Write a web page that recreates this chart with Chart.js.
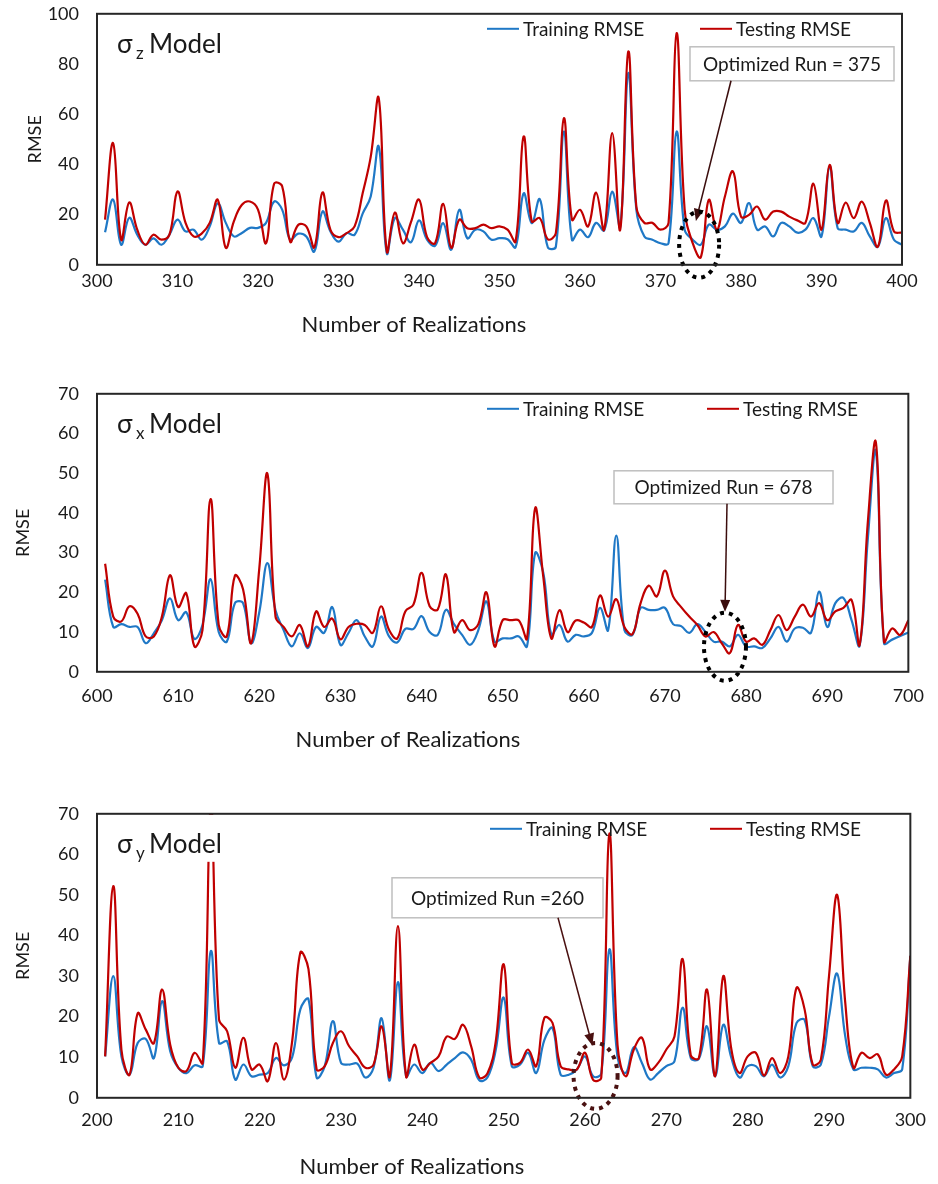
<!DOCTYPE html>
<html>
<head>
<meta charset="utf-8">
<script src="https://cdn.jsdelivr.net/npm/chart.js@4.4.0/dist/chart.umd.min.js"></script>
<style>
  html, body { margin: 0; padding: 0; background: #fff; }
  body { width: 938px; height: 1184px; position: relative; overflow: hidden; }
  canvas { position: absolute; left: 0; top: 0; }
</style>
</head>
<body>
<canvas id="chart-z" width="938" height="400"></canvas>
<canvas id="chart-x" width="938" height="420"></canvas>
<canvas id="chart-y" width="938" height="420"></canvas>
<script>
// run numbers (x categories)
const zRuns = Array.from({ length: 100 }, (_, i) => 301 + i);
const xRuns = Array.from({ length: 100 }, (_, i) => 601 + i);
const yRuns = Array.from({ length: 100 }, (_, i) => 201 + i);

// sigma z model, runs 301-400
const zTraining = [
  13, 26, 8, 18.7, 12, 8, 10.5, 8, 12, 18,
  13.3, 14, 10, 15.3, 24.5, 16.7, 11.3, 12.7, 14.7, 14.7,
  16.7, 25.2, 22, 10, 12.4, 11.3, 5.3, 21.2, 13.3, 9.2,
  12.6, 12, 20.4, 27.2, 47.1, 4.6, 18.6, 14, 9, 17.7,
  10, 7.6, 16.6, 6, 21.9, 10.6, 14, 13.3, 10, 10.6,
  10.2, 7, 28.5, 16.6, 26.2, 7, 7.2, 53.1, 10, 14,
  11, 16.7, 13.7, 29.2, 15.3, 76.4, 21.9, 11.3, 10, 8.6,
  8.6, 53.1, 14, 10, 8, 16, 14, 15.3, 20.4, 16.7,
  24.6, 14, 15.3, 11.3, 16.7, 15.3, 12.8, 14, 18.6, 11.3,
  39.2, 14.7, 14, 13.3, 16.7, 11.3, 7.2, 18.6, 10, 8
];
const zTesting = [
  18, 48.5, 10, 24.8, 14, 8, 12, 10, 12, 29.2,
  16.7, 11.3, 12.4, 16.7, 25.9, 6.8, 17.3, 23.9, 25.2, 22,
  8.6, 32.3, 31.3, 9.2, 15.9, 15.3, 7, 28.8, 13.9, 11,
  12.6, 15.3, 28.5, 43, 66.4, 5.3, 20.8, 8.6, 17, 26,
  11, 8.6, 24.3, 6.8, 18, 14.6, 14.6, 16, 14.6, 15.3,
  14, 9.3, 51.1, 17.3, 18.6, 10.2, 12.6, 58.4, 18, 21.9,
  15.3, 28.8, 14, 52.5, 14, 85, 23.2, 16.7, 16.7, 14,
  16.7, 92.3, 22, 8.6, 3, 25.9, 14, 27.2, 37.2, 19.2,
  19.9, 23.2, 18, 21.2, 21.2, 19.2, 17.7, 16.7, 32.3, 14,
  39.8, 16.7, 24.8, 18.6, 25.2, 16.7, 7.2, 25.6, 13.3, 12.8
];

// sigma x model, runs 601-700
const xTraining = [
  23.2, 11.3, 12, 11.3, 11.3, 7.2, 9.7, 13, 18.5, 13,
  15, 8.3, 11.8, 23.3, 10, 7.6, 17.3, 17.3, 7.2, 15,
  27.4, 15.5, 10.5, 6.4, 9.7, 6, 11.3, 9.8, 16.3, 6.8,
  9.8, 13, 8.9, 6.4, 13.9, 8.9, 7.4, 10.8, 10.8, 14,
  10, 9.3, 15.6, 12, 9.3, 6.8, 10.5, 17.7, 7.6, 8.4,
  8.4, 8.9, 6.4, 29.9, 25, 9.3, 11.8, 7.6, 9.3, 8.9,
  9.8, 16.1, 10.5, 34.3, 10.5, 9.3, 16.1, 15.6, 15.6, 16.1,
  12, 11.5, 9.8, 12, 10, 7.6, 7.6, 6.4, 9.3, 6.4,
  6.4, 6, 8.4, 11.3, 7.6, 10.9, 11.1, 9.8, 20.2, 11.3,
  17.3, 18.6, 13, 6.6, 33.3, 55.5, 7.2, 8.1, 9, 9.9
];
const xTesting = [
  27.2, 13.9, 12.7, 16.5, 14.6, 8.9, 8.9, 13.9, 24.3, 16.3,
  19.8, 6.4, 10.5, 43.5, 11.8, 8.9, 24.2, 20.8, 7.2, 26,
  49.9, 13.9, 11.3, 8.9, 11.8, 6.4, 15.2, 11.3, 13.4, 8.2,
  11.3, 12.1, 11.8, 9.8, 16.5, 10.5, 8.4, 15.2, 16.9, 24.9,
  16.5, 15.7, 24.5, 10, 13, 10.5, 12, 20, 6.4, 13,
  13, 12.9, 8.4, 41.2, 24, 8.4, 15.5, 10, 12.9, 12.4,
  11.3, 19.2, 13.9, 18.3, 11.3, 9.5, 17.3, 21.7, 19, 25.5,
  19, 16.3, 13.9, 11.8, 8.9, 10, 7.2, 4.7, 11.8, 7.6,
  8.4, 6.8, 10.5, 14.3, 10.5, 13.9, 16.9, 13.9, 17.3, 13,
  15.2, 16.1, 18.1, 6.8, 37.5, 57.8, 7.6, 10.9, 9.3, 13
];

// sigma y model, runs 201-300
const yTraining = [
  10.2, 30, 10.2, 5.7, 13.5, 14.5, 9.8, 23.8, 11.5, 7.4,
  6.1, 8, 7.8, 36.2, 13.5, 13.9, 4.5, 8.2, 5.3, 5.7,
  6.1, 9.8, 8, 10, 21.8, 24.3, 5, 7.8, 18.9, 8.6,
  8.2, 8.4, 5, 7.4, 19.6, 4.3, 28.5, 5.3, 8.2, 6.1,
  8.6, 6.6, 8.2, 9.8, 11.2, 9.4, 4.3, 5, 11.5, 24.7,
  7.8, 8.2, 11.1, 6.1, 14.2, 17.2, 5.7, 5.7, 7, 10.2,
  5.3, 6, 36.6, 10, 6.1, 12.5, 8.6, 4.5, 6.1, 7.8,
  9, 22.2, 9.8, 9.6, 17.6, 5.3, 18, 9.8, 5, 7.8,
  7.8, 5.3, 8.2, 5, 7.8, 18.4, 19.2, 7.8, 8.2, 20,
  30.6, 15.1, 7, 7.4, 7.4, 7, 5, 6.1, 7, 35
];
const yTesting = [
  10.2, 52.2, 11.9, 5.7, 20.8, 16.8, 13.5, 26.7, 13.1, 7.4,
  6.6, 11.1, 8.6, 72, 19.3, 16.4, 7.4, 14.8, 7, 8.2,
  4.1, 13.5, 4.5, 14, 35.8, 31.7, 7, 7.8, 13.5, 16.4,
  12.7, 10.2, 7.4, 8.2, 17.6, 5.3, 42.3, 5.3, 13.1, 7,
  8.6, 10.2, 15.1, 14.5, 18, 12.7, 5, 6, 13.5, 32.9,
  8.6, 8.6, 11.9, 7.8, 19.7, 18.5, 7.8, 7, 7, 11.1,
  4.4, 5, 65.1, 13, 5.3, 11.9, 14.8, 7, 8.6, 11.9,
  15.1, 34.2, 10.5, 9.8, 26.7, 5.3, 30, 11.9, 6.1, 10.2,
  11.1, 5.5, 9.8, 6.1, 10.2, 27.1, 21.8, 8.2, 9.4, 30,
  50, 23.4, 7.4, 11.1, 9.8, 10.7, 5.7, 7, 10.2, 35
];

const BLUE = "#1f78c6";
const RED = "#c00000";
const TEXT = "#1a1a1a";
const FONT = "Lato, 'Noto Sans', sans-serif";

Chart.defaults.font.family = FONT;

function drawArrow(ctx, x1, y1, x2, y2, color) {
  const ang = Math.atan2(y2 - y1, x2 - x1);
  const head = 12;
  ctx.strokeStyle = color;
  ctx.fillStyle = color;
  ctx.lineWidth = 1.5;
  ctx.beginPath();
  ctx.moveTo(x1, y1);
  ctx.lineTo(x2 - Math.cos(ang) * head * 0.8, y2 - Math.sin(ang) * head * 0.8);
  ctx.stroke();
  ctx.beginPath();
  ctx.moveTo(x2, y2);
  ctx.lineTo(x2 - head * Math.cos(ang) + 5 * Math.sin(ang), y2 - head * Math.sin(ang) - 5 * Math.cos(ang));
  ctx.lineTo(x2 - head * Math.cos(ang) - 5 * Math.sin(ang), y2 - head * Math.sin(ang) + 5 * Math.cos(ang));
  ctx.closePath();
  ctx.fill();
}

// frame, titles, legend and the "optimized run" callout (y offsets are from the plot top)
function overlay(opt) {
  return {
    id: "overlay",
    afterDraw(chart) {
      const { ctx, chartArea: a, scales } = chart;
      ctx.save();

      // model label on a white box (it hides the clipped peak in the σy plot)
      ctx.fillStyle = "#fff";
      ctx.fillRect(a.left + 8, a.top + 1, 132, 47);
      ctx.fillStyle = TEXT;
      ctx.textAlign = "left";
      ctx.textBaseline = "alphabetic";
      ctx.font = `26px ${FONT}`;
      ctx.fillText("σ", 117, a.top + 39);
      ctx.font = `17px ${FONT}`;
      ctx.fillText(opt.sub, 136, a.top + 45);
      ctx.font = `26px ${FONT}`;
      ctx.fillText("Model", 149, a.top + 39);

      // legend
      ctx.font = `19px ${FONT}`;
      ctx.textBaseline = "middle";
      const ly = a.top + 15;
      [[opt.legend[0], BLUE, "Training RMSE"], [opt.legend[1], RED, "Testing RMSE"]].forEach(([lx, c, t]) => {
        ctx.strokeStyle = c;
        ctx.lineWidth = 2;
        ctx.beginPath();
        ctx.moveTo(lx, ly);
        ctx.lineTo(lx + 32, ly);
        ctx.stroke();
        ctx.fillStyle = TEXT;
        ctx.fillText(t, lx + 36, ly + 1);
      });

      // callout
      const n = opt.note;
      const bl = n.box[0], br = n.box[2];
      const bt = a.top + n.box[1], bb = a.top + n.box[3];
      ctx.fillStyle = "#fff";
      ctx.fillRect(bl, bt, br - bl, bb - bt);
      ctx.strokeStyle = "#bfbfbf";
      ctx.lineWidth = 1.5;
      ctx.strokeRect(bl, bt, br - bl, bb - bt);
      ctx.fillStyle = TEXT;
      ctx.textAlign = "center";
      ctx.font = `19px ${FONT}`;
      ctx.fillText(n.text, (bl + br) / 2, (bt + bb) / 2 + 1);

      const tx = scales.x.getPixelForValue(n.tip[0]);
      const ty = scales.y.getPixelForValue(n.tip[1]);
      drawArrow(ctx, n.fromX, bb, tx, ty, n.arrowColor);

      const cx = scales.x.getPixelForValue(n.ring[0]);
      const cy = scales.y.getPixelForValue(n.ring[1]);
      ctx.strokeStyle = n.ringColor;
      ctx.lineWidth = 4;
      ctx.setLineDash([4, 5]);
      ctx.beginPath();
      ctx.ellipse(cx, cy, n.ringSize[0] / 2, n.ringSize[1] / 2, 0, 0, Math.PI * 2);
      ctx.stroke();
      ctx.setLineDash([]);

      // plot frame
      ctx.strokeStyle = "#262626";
      ctx.lineWidth = 2;
      ctx.strokeRect(a.left, a.top, a.right - a.left, a.bottom - a.top);

      // axis titles
      ctx.fillStyle = TEXT;
      ctx.textAlign = "center";
      ctx.textBaseline = "middle";
      ctx.font = `22px ${FONT}`;
      ctx.fillText("Number of Realizations", opt.xTitleX, a.bottom + opt.xTitleDy);
      ctx.font = `18px ${FONT}`;
      ctx.translate(opt.yTitleX, (a.top + a.bottom) / 2);
      ctx.rotate(-Math.PI / 2);
      ctx.fillText("RMSE", 0, 0);
      ctx.restore();
    },
  };
}

function buildChart(id, opt) {
  const canvas = document.getElementById(id);
  const points = (runs, vals) => runs.map((r, i) => ({ x: r, y: vals[i] }));
  const tickFont = { size: 18, family: FONT };
  opt.xAxisH = 90;
  const chart = new Chart(canvas, {
    type: "line",
    data: {
      datasets: [
        {
          label: "Training RMSE",
          data: points(opt.runs, opt.training),
          borderColor: BLUE,
          borderWidth: 2.2,
          pointRadius: 0,
          tension: 0.4,
          fill: false,
          order: 1,
        },
        {
          label: "Testing RMSE",
          data: points(opt.runs, opt.testing),
          borderColor: RED,
          borderWidth: 2.2,
          pointRadius: 0,
          tension: 0.4,
          fill: false,
          order: 0,
        },
      ],
    },
    options: {
      responsive: false,
      animation: false,
      events: [],
      layout: { padding: { top: 14, right: 938 - opt.area.right, left: 0, bottom: 0 } },
      plugins: { legend: { display: false }, tooltip: { enabled: false } },
      scales: {
        x: {
          type: "linear",
          min: opt.xMin,
          max: opt.xMax,
          grid: { display: false, drawTicks: false },
          border: { display: false },
          ticks: { stepSize: 10, autoSkip: false, maxRotation: 0, padding: opt.xTickPad, color: TEXT, font: tickFont },
          afterFit: (s) => { s.height = opt.xAxisH; },
        },
        y: {
          min: 0,
          max: opt.yMax,
          grid: { display: false, drawTicks: false },
          border: { display: false },
          ticks: { stepSize: opt.yStep, padding: 18, color: TEXT, font: tickFont },
          afterFit: (s) => { s.width = opt.area.left; },
        },
      },
    },
    plugins: [overlay(opt)],
  });

  // make the plot box exactly as tall as wanted, then move the canvas onto it
  const want = opt.area.bottom - opt.area.top;
  const got = chart.chartArea.bottom - chart.chartArea.top;
  if (Math.abs(got - want) > 0.5) {
    opt.xAxisH += got - want;
    chart.update();
  }
  canvas.style.top = (opt.area.top - chart.chartArea.top) + "px";
  return chart;
}

buildChart("chart-z", {
  runs: zRuns, training: zTraining, testing: zTesting,
  area: { top: 14, bottom: 265, left: 97, right: 902 },
  xMin: 300, xMax: 400, yMax: 100, yStep: 20, xTickPad: 6,
  xTitleX: 414, xTitleDy: 60, yTitleX: 35, sub: "z", legend: [487, 700],
  note: {
    text: "Optimized Run = 375", box: [690, 33, 894, 67], fromX: 731,
    tip: [374.4, 17.5], arrowColor: "#3b0d0d",
    ring: [374.8, 8], ringSize: [40, 66], ringColor: "#000",
  },
});

buildChart("chart-x", {
  runs: xRuns, training: xTraining, testing: xTesting,
  area: { top: 394, bottom: 672, left: 97, right: 912 },
  xMin: 600, xMax: 700, yMax: 70, yStep: 10, xTickPad: 14,
  xTitleX: 408, xTitleDy: 68, yTitleX: 23, sub: "x", legend: [487, 707],
  note: {
    text: "Optimized Run = 678", box: [614, 77, 833, 110], fromX: 727,
    tip: [677.4, 15.1], arrowColor: "#3b0d0d",
    ring: [677.4, 6.3], ringSize: [42, 68], ringColor: "#000",
  },
});

buildChart("chart-y", {
  runs: yRuns, training: yTraining, testing: yTesting,
  area: { top: 814, bottom: 1098, left: 97, right: 918 },
  xMin: 200, xMax: 300, yMax: 70, yStep: 10, xTickPad: 12,
  xTitleX: 412, xTitleDy: 69, yTitleX: 23, sub: "y", legend: [490, 710],
  note: {
    text: "Optimized Run =260", box: [392, 64, 603, 104], fromX: 558,
    tip: [260.9, 12.9], arrowColor: "#4a1010",
    ring: [261.3, 5.4], ringSize: [44, 66], ringColor: "#4a1212",
  },
});
</script>
</body>
</html>
